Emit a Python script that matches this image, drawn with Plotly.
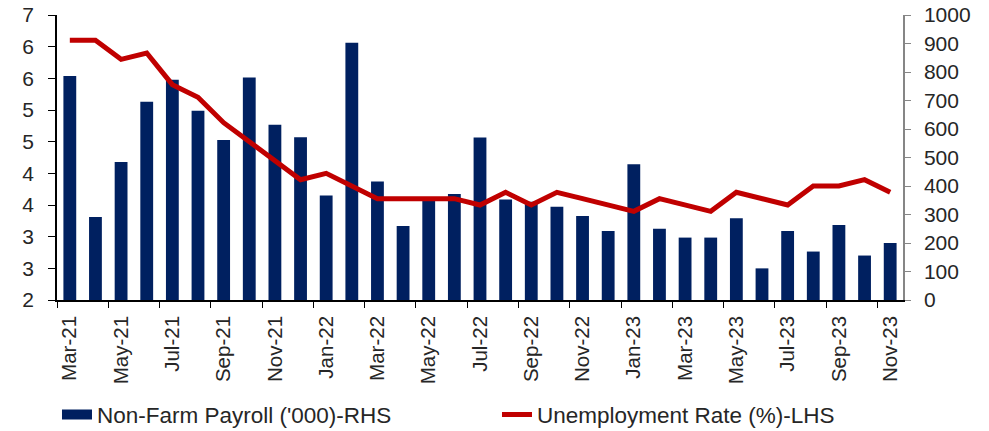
import plotly.graph_objects as go

months = ["Mar-21","Apr-21","May-21","Jun-21","Jul-21","Aug-21","Sep-21","Oct-21","Nov-21","Dec-21",
          "Jan-22","Feb-22","Mar-22","Apr-22","May-22","Jun-22","Jul-22","Aug-22","Sep-22","Oct-22","Nov-22","Dec-22",
          "Jan-23","Feb-23","Mar-23","Apr-23","May-23","Jun-23","Jul-23","Aug-23","Sep-23","Oct-23","Nov-23"]

payroll = [786, 291, 484, 696, 773, 664, 561, 781, 615, 571,
           367, 903, 416, 260, 353, 372, 570, 353, 345, 327, 295, 242,
           476, 250, 219, 219, 287, 111, 242, 170, 263, 156, 200]

unemp = [6.1, 6.1, 5.8, 5.9, 5.4, 5.2, 4.8, 4.5, 4.2, 3.9,
         4.0, 3.8, 3.6, 3.6, 3.6, 3.6, 3.5, 3.7, 3.5, 3.7, 3.6, 3.5,
         3.4, 3.6, 3.5, 3.4, 3.7, 3.6, 3.5, 3.8, 3.8, 3.9, 3.7]

lhs_ticks = [2.0, 2.5, 3.0, 3.5, 4.0, 4.5, 5.0, 5.5, 6.0, 6.5]
lhs_labels = ["2", "3", "3", "4", "4", "5", "5", "6", "6", "7"]
rhs_ticks = [0, 100, 200, 300, 400, 500, 600, 700, 800, 900, 1000]

FONT = "Liberation Sans, Arial, sans-serif"
NAVY = "#002060"
RED = "#C00000"

fig = go.Figure()
fig.add_trace(go.Bar(x=months, y=payroll, name="Non-Farm Payroll ('000)-RHS",
                     marker=dict(color=NAVY, line=dict(width=0)), yaxis="y", showlegend=False))
# legend proxy giving a wide rectangular swatch for the bars
fig.add_trace(go.Scatter(x=[None], y=[None], name="Non-Farm Payroll ('000)-RHS", mode="lines",
                         line=dict(color=NAVY, width=12), yaxis="y", hoverinfo="skip"))
fig.add_trace(go.Scatter(x=months, y=unemp, name="Unemployment Rate (%)-LHS", mode="lines",
                         line=dict(color=RED, width=5), yaxis="y2"))

fig.update_layout(
    width=989, height=431,
    margin=dict(l=57, r=86, t=15, b=131, autoexpand=False),
    paper_bgcolor="white", plot_bgcolor="white",
    font=dict(family=FONT, size=20, color="#262626"),
    bargap=0.5,
    showlegend=True,
    legend=dict(orientation="h", x=-0.00001, xanchor="left",
                y=-0.4035, yanchor="middle", font=dict(size=22.5, color="#262626"),
                traceorder="normal", itemwidth=30, entrywidth=395, bgcolor="rgba(0,0,0,0)"),
    xaxis=dict(type="category", dtick=2, tickson="boundaries", tickangle=-90,
               showline=True, linecolor="black", linewidth=1.5, ticks="outside",
               ticklen=6, tickcolor="black", showgrid=False, tickfont=dict(size=20.5),
               ticklabelstandoff=6),
    yaxis=dict(side="right", range=[0, 1000], tickvals=rhs_ticks, showgrid=False,
               showline=True, linecolor="#868686", linewidth=1.5, ticks="outside",
               ticklen=6, tickcolor="#868686", zeroline=False, tickfont=dict(size=21),
               ticklabelstandoff=9),
    yaxis2=dict(side="left", overlaying="y", range=[2, 6.5], tickvals=lhs_ticks,
                ticktext=lhs_labels, showgrid=False, showline=True, linecolor="black",
                linewidth=1.5, ticks="outside", ticklen=7, tickcolor="black",
                zeroline=False, tickfont=dict(size=21), ticklabelstandoff=10),
)

fig.write_html("out.html", config={"displayModeBar": False},
               post_script="document.body.style.margin='0';")
